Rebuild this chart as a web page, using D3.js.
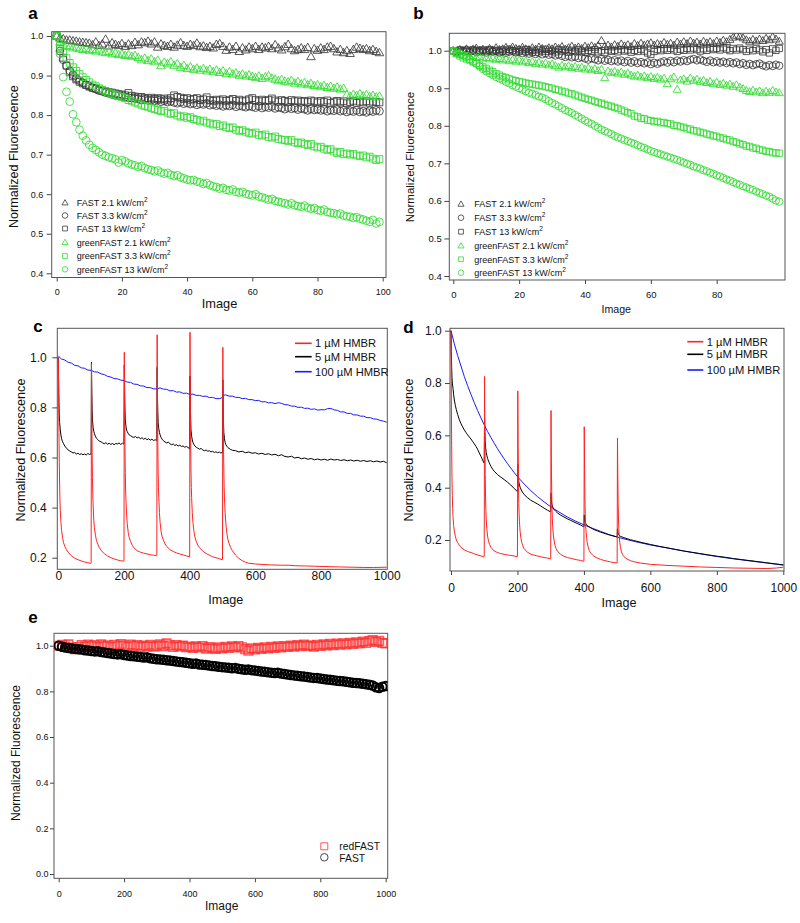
<!DOCTYPE html>
<html><head><meta charset="utf-8">
<script src="https://cdn.jsdelivr.net/npm/d3@7"></script>
<style>body{margin:0;background:#fff}svg{display:block}</style>
</head><body>
<script>
// ---------------- DATA ----------------
// Panel a (images 0..99)
const aFAST21 = [1.000,.995,.993,.990,.990,.988,.987,.985,.984,.983,
 .982,.978,.985,.976,.980,.992,.975,.983,.979,.976,
 .981,.974,.980,.976,.984,.978,.985,.983,.987,.980,
 .985,.972,.980,.976,.974,.979,.972,.977,.983,.976,
 .974,.979,.976,.982,.973,.975,.971,.974,.970,.979,
 .981,.974,.964,.972,.966,.974,.961,.970,.965,.972,
 .968,.974,.966,.972,.970,.974,.968,.978,.970,.965,
 .973,.979,.968,.963,.966,.970,.966,.971,.948,.968,
 .964,.970,.966,.972,.974,.968,.960,.966,.958,.963,
 .956,.966,.972,.969,.966,.968,.963,.966,.961,.958];
const aFAST33 = [1.000,.962,.940,.925,.912,.902,.893,.887,.882,.877,
 .873,.869,.866,.862,.860,.857,.855,.852,.850,.849,
 .847,.846,.844,.843,.842,.841,.838,.840,.837,.838,
 .836,.838,.834,.836,.833,.835,.832,.830,.833,.829,
 .831,.828,.830,.826,.829,.827,.830,.825,.827,.824,
 .826,.822,.825,.823,.826,.821,.824,.822,.820,.823,
 .821,.819,.823,.818,.821,.819,.822,.817,.820,.818,
 .815,.819,.816,.818,.814,.817,.815,.812,.816,.813,
 .815,.812,.814,.810,.813,.811,.814,.810,.812,.808,
 .811,.809,.812,.808,.810,.807,.811,.809,.812,.810];
const aFAST13 = [1.000,.968,.945,.925,.908,.898,.890,.884,.880,.876,
 .872,.869,.867,.864,.862,.860,.858,.857,.855,.853,
 .852,.850,.856,.849,.847,.845,.846,.843,.842,.844,
 .841,.843,.840,.842,.839,.843,.850,.846,.844,.841,
 .843,.839,.841,.843,.838,.840,.845,.838,.836,.839,
 .837,.840,.836,.838,.841,.836,.839,.835,.837,.840,
 .843,.838,.835,.839,.836,.838,.842,.837,.834,.838,
 .836,.833,.838,.835,.837,.834,.836,.833,.837,.835,
 .832,.836,.833,.837,.831,.834,.836,.832,.835,.830,
 .833,.836,.831,.834,.832,.835,.831,.834,.833,.832];
const aGreen21 = [1.000,.985,.980,.976,.974,.970,.972,.968,.966,.969,
 .964,.966,.962,.965,.960,.958,.961,.955,.957,.953,
 .955,.951,.953,.949,.951,.946,.940,.944,.938,.942,
 .935,.939,.925,.934,.930,.935,.926,.930,.921,.926,
 .918,.922,.916,.919,.914,.918,.912,.916,.910,.914,
 .908,.912,.905,.910,.904,.907,.901,.904,.899,.902,
 .898,.895,.899,.893,.897,.900,.894,.891,.887,.890,
 .886,.884,.888,.881,.885,.879,.882,.877,.880,.875,
 .877,.872,.875,.870,.873,.868,.871,.866,.868,.852,
 .848,.853,.850,.854,.849,.852,.847,.850,.846,.848];
const aGreen33 = [1.000,.975,.958,.944,.932,.921,.912,.904,.896,.889,
 .883,.877,.873,.868,.864,.861,.857,.854,.851,.848,
 .846,.843,.838,.836,.832,.829,.826,.823,.821,.818,
 .815,.813,.810,.811,.806,.803,.805,.799,.796,.797,
 .793,.795,.790,.788,.784,.786,.781,.779,.776,.778,
 .772,.774,.769,.767,.769,.763,.760,.762,.758,.755,
 .753,.756,.750,.748,.751,.745,.743,.746,.740,.738,
 .737,.734,.737,.731,.729,.731,.727,.724,.727,.721,
 .718,.720,.715,.712,.714,.708,.704,.707,.701,.703,
 .700,.702,.698,.696,.698,.693,.695,.690,.686,.689];
const aGreen13 = [1.000,.955,.896,.859,.834,.802,.782,.763,.748,.736,
 .725,.717,.712,.706,.700,.697,.693,.691,.688,.680,
 .686,.683,.678,.675,.673,.669,.671,.666,.663,.661,
 .658,.660,.655,.652,.654,.649,.646,.648,.643,.640,
 .637,.635,.636,.632,.630,.626,.628,.623,.620,.618,
 .614,.616,.611,.609,.612,.606,.604,.606,.601,.599,
 .597,.600,.594,.592,.589,.586,.588,.583,.581,.579,
 .577,.574,.577,.572,.570,.568,.571,.566,.563,.565,
 .560,.558,.561,.555,.553,.552,.549,.551,.546,.544,
 .543,.540,.542,.538,.536,.533,.530,.535,.526,.530];

// Panel b (images 0..99)
const bFAST21 = [1.000,.998,1.003,1.000,1.005,.999,1.004,1.007,1.001,1.004,
 1.000,1.006,1.002,1.008,1.003,1.005,1.009,1.003,1.010,1.006,
 1.004,1.009,1.005,1.003,1.008,1.004,1.010,1.006,1.003,1.008,
 1.005,1.010,1.006,1.011,1.004,1.008,1.012,1.007,1.010,1.006,
 1.012,1.008,1.013,1.009,1.014,1.027,1.011,1.015,1.010,1.016,
 1.012,1.018,1.013,1.016,1.011,1.019,1.014,1.020,1.015,1.018,
 1.021,1.015,1.019,1.016,1.022,1.017,1.020,1.015,1.023,1.018,
 1.024,1.019,1.026,1.020,1.023,1.018,1.025,1.021,1.024,1.019,
 1.026,1.022,1.028,1.024,1.030,1.036,1.041,1.038,1.034,1.029,
 1.025,1.030,1.026,1.031,1.027,1.033,1.029,1.037,1.031,1.025];
const bFAST33 = [1.000,.996,1.001,.998,1.002,.997,1.000,.996,1.001,.998,
 .995,1.000,.997,.999,.995,.998,.994,.997,1.000,.995,
 .997,.993,.996,.992,.995,.991,.994,.990,.993,.989,
 .991,.987,.990,.986,.983,.986,.982,.984,.980,.983,
 .979,.976,.980,.977,.974,.978,.973,.976,.972,.975,
 .971,.974,.969,.973,.968,.972,.967,.970,.966,.969,
 .964,.968,.965,.969,.972,.968,.973,.969,.974,.971,
 .975,.972,.976,.978,.974,.977,.973,.970,.974,.969,
 .972,.968,.971,.967,.970,.966,.969,.964,.967,.962,
 .965,.961,.964,.966,.961,.958,.962,.959,.963,.960];
const bFAST13 = [1.000,.997,1.002,.999,1.001,.998,1.003,1.000,.997,1.002,
 .999,1.003,.998,1.001,.997,1.002,.999,1.004,1.000,.997,
 1.002,.999,1.003,.998,1.001,.996,1.002,.999,1.004,.998,
 1.001,.997,1.003,.999,1.002,.996,1.001,.998,1.003,.999,
 .996,1.001,.998,1.003,.997,1.000,.995,1.002,.998,1.001,
 .997,1.003,.999,1.002,.996,1.001,.998,1.004,.999,.994,
 .990,.998,1.003,1.000,1.005,1.001,1.006,1.002,.998,1.004,
 1.001,1.006,1.002,1.007,1.003,.999,1.005,1.001,1.007,1.003,
 1.006,1.002,1.008,1.004,1.000,1.006,1.002,1.007,1.003,.998,
 1.004,1.000,1.006,1.002,.997,1.003,.994,1.005,1.001,1.006];
const bGreen21 = [1.000,.993,.990,.988,.986,.984,.986,.982,.984,.980,
 .982,.978,.981,.977,.979,.975,.978,.973,.976,.972,
 .975,.970,.973,.968,.971,.966,.969,.964,.967,.962,
 .965,.960,.956,.961,.957,.960,.955,.958,.953,.956,
 .951,.954,.949,.952,.947,.950,.928,.946,.942,.945,
 .940,.943,.937,.940,.935,.932,.935,.930,.933,.928,
 .931,.926,.929,.924,.927,.912,.925,.930,.897,.922,
 .925,.919,.927,.921,.924,.918,.921,.915,.918,.912,
 .916,.910,.913,.908,.911,.905,.909,.903,.899,.894,
 .891,.895,.890,.893,.888,.892,.889,.894,.890,.888];
const bGreen33 = [1.000,.992,.986,.981,.978,.975,.970,.966,.961,.957,
 .953,.948,.944,.939,.935,.931,.928,.925,.922,.920,
 .918,.916,.914,.912,.911,.909,.908,.906,.904,.902,
 .900,.897,.895,.892,.890,.887,.885,.882,.879,.876,
 .873,.870,.868,.865,.862,.860,.857,.854,.852,.849,
 .846,.842,.839,.835,.832,.826,.824,.820,.819,.815,
 .814,.811,.812,.808,.809,.806,.805,.801,.800,.797,
 .796,.792,.791,.787,.786,.783,.781,.778,.776,.773,
 .772,.768,.767,.763,.762,.758,.756,.752,.750,.746,
 .745,.741,.740,.736,.735,.732,.731,.728,.728,.727];
const bGreen13 = [1.000,.996,.992,.988,.983,.977,.971,.965,.958,.951,
 .945,.940,.935,.930,.926,.922,.917,.913,.908,.904,
 .900,.896,.892,.888,.885,.882,.878,.875,.871,.866,
 .861,.857,.852,.847,.842,.838,.834,.829,.824,.819,
 .814,.809,.805,.800,.795,.790,.786,.782,.778,.773,
 .769,.766,.762,.759,.755,.752,.748,.744,.741,.737,
 .733,.730,.727,.724,.721,.718,.715,.712,.709,.706,
 .702,.699,.696,.692,.689,.686,.682,.679,.675,.672,
 .668,.665,.661,.657,.654,.650,.646,.643,.639,.636,
 .632,.629,.625,.621,.618,.614,.611,.606,.601,.598];

const abLegend = ["FAST 2.1 kW/cm","FAST 3.3 kW/cm","FAST 13 kW/cm","greenFAST 2.1 kW/cm","greenFAST 3.3 kW/cm","greenFAST 13 kW/cm"];

// Panel c: [image, value]
const cRed = [[0,1.0],[1,.86],[2,.7],[3,.58],[4,.49],[5,.43],[6,.39],[8,.34],[10,.31],[13,.28],[16,.26],[20,.245],[25,.232],[30,.222],[40,.207],[50,.198],[60,.192],[70,.187],[80,.183],[90,.18],[99,.177],
 [100,.178],[101,.975],[102,.78],[103,.62],[104,.52],[105,.45],[106,.41],[108,.35],[110,.32],[113,.29],[116,.27],[120,.255],[125,.24],[130,.23],[140,.216],[150,.207],[160,.2],[170,.195],[180,.191],[190,.188],[199,.186],
 [200,.187],[201,1.02],[202,.8],[203,.64],[204,.54],[205,.47],[206,.43],[208,.37],[210,.335],[213,.3],[216,.28],[220,.265],[225,.25],[230,.24],[240,.228],[250,.222],[260,.218],[270,.215],[280,.212],[290,.21],[299,.208],
 [300,.209],[301,1.09],[302,.84],[303,.66],[304,.55],[305,.48],[306,.44],[308,.38],[310,.34],[313,.305],[316,.285],[320,.27],[325,.255],[330,.245],[340,.232],[350,.225],[360,.219],[370,.215],[380,.211],[390,.207],[399,.204],
 [400,.203],[401,1.10],[402,.84],[403,.66],[404,.55],[405,.48],[406,.44],[408,.38],[410,.34],[413,.305],[416,.283],[420,.265],[425,.25],[430,.24],[440,.226],[450,.217],[460,.21],[470,.204],[480,.2],[490,.196],[499,.192],
 [500,.192],[501,1.04],[502,.82],[503,.65],[504,.55],[505,.48],[506,.44],[508,.38],[510,.34],[513,.3],[516,.275],[520,.257],[525,.24],[530,.228],[540,.21],[550,.197],[560,.188],[570,.182],[580,.178],[600,.175],[620,.173],[650,.171],[680,.17],[700,.17],[720,.168],[750,.167],[780,.166],[800,.165],[830,.164],[860,.163],[900,.162],[930,.161],[960,.161],[1000,.162]];
const cBlack = [[0,1.0],[1,.9],[2,.82],[3,.77],[4,.74],[6,.71],[8,.69],[10,.675],[13,.663],[16,.655],[20,.645],[25,.637],[30,.63],[35,.626],[40,.622],[45,.618],[50,.62],[55,.614],[60,.617],[65,.612],[70,.615],[75,.611],[80,.614],[85,.61],[90,.616],[95,.612],[99,.614],
 [100,.613],[101,.98],[102,.86],[103,.79],[104,.75],[106,.72],[108,.705],[110,.695],[113,.685],[116,.677],[120,.672],[125,.665],[130,.663],[135,.658],[140,.655],[145,.659],[150,.653],[155,.657],[160,.652],[165,.656],[170,.651],[175,.656],[180,.654],[185,.658],[190,.652],[195,.657],[199,.654],
 [200,.655],[201,.97],[202,.86],[203,.79],[204,.75],[206,.725],[208,.71],[210,.703],[213,.696],[216,.69],[220,.687],[225,.683],[230,.68],[235,.684],[240,.678],[245,.681],[250,.675],[255,.679],[260,.673],[265,.677],[270,.671],[275,.675],[280,.669],[285,.673],[290,.668],[295,.671],[299,.667],
 [300,.668],[301,.96],[302,.85],[303,.78],[304,.74],[306,.715],[308,.7],[310,.69],[313,.68],[316,.673],[320,.667],[325,.662],[330,.658],[335,.661],[340,.655],[345,.651],[350,.654],[355,.648],[360,.651],[365,.646],[370,.649],[375,.644],[380,.646],[385,.641],[390,.644],[395,.64],[399,.636],
 [400,.633],[401,.925],[402,.82],[403,.75],[404,.71],[406,.685],[408,.67],[410,.66],[413,.652],[416,.646],[420,.641],[425,.637],[430,.633],[435,.636],[440,.63],[445,.627],[450,.63],[455,.625],[460,.627],[465,.622],[470,.625],[475,.62],[480,.623],[485,.619],[490,.622],[495,.618],[499,.62],
 [500,.619],[501,.91],[502,.81],[503,.74],[504,.7],[506,.675],[508,.66],[510,.652],[513,.645],[516,.64],[520,.636],[525,.632],[530,.629],[540,.627],[550,.622],[560,.625],[570,.619],[580,.622],[590,.617],[600,.619],[610,.614],[620,.617],[630,.612],[640,.615],[650,.61],[660,.613],[670,.607],[680,.611],[690,.604],[700,.602],[710,.605],[720,.598],[730,.601],[740,.595],[750,.598],[760,.593],[770,.596],[780,.591],[790,.594],[800,.59],[810,.593],[820,.589],[830,.594],[840,.59],[850,.592],[860,.588],[870,.591],[880,.587],[890,.59],[900,.586],[910,.589],[920,.585],[930,.588],[940,.584],[950,.587],[960,.583],[970,.586],[980,.582],[990,.585],[1000,.579]];
const cBlue = [[0,1.005],[10,.993],[20,.989],[30,.98],[40,.977],[50,.968],[60,.966],[70,.958],[80,.956],[90,.949],[100,.948],[110,.942],[120,.941],[130,.934],[140,.931],[150,.924],[160,.921],[170,.915],[180,.914],[190,.909],[200,.907],[210,.901],[220,.9],[230,.893],[240,.892],[250,.886],[260,.885],[270,.879],[280,.879],[290,.874],[300,.874],[310,.878],[320,.873],[330,.872],[340,.866],[350,.867],[360,.861],[370,.862],[380,.856],[390,.857],[400,.852],[410,.853],[420,.848],[430,.848],[440,.844],[450,.845],[460,.839],[470,.84],[480,.835],[490,.835],[498,.838],[502,.848],[510,.85],[520,.845],[530,.845],[540,.84],[550,.84],[560,.835],[570,.836],[580,.831],[590,.831],[600,.827],[610,.828],[620,.822],[630,.823],[640,.818],[650,.819],[660,.815],[670,.819],[680,.816],[690,.811],[700,.81],[710,.805],[720,.805],[730,.8],[740,.801],[750,.796],[760,.797],[770,.792],[780,.794],[790,.789],[800,.791],[810,.79],[820,.795],[830,.796],[840,.79],[850,.788],[860,.782],[870,.782],[880,.776],[890,.776],[900,.77],[910,.77],[920,.765],[930,.765],[940,.759],[950,.759],[960,.754],[970,.753],[980,.748],[990,.745],[1000,.741]];

// Panel d: [image, value]
const dRed = [[0,1.0],[1,.75],[2,.56],[3,.44],[4,.37],[5,.32],[6,.29],[8,.255],[10,.235],[13,.215],[16,.2],[20,.19],[25,.18],[30,.172],[40,.162],[50,.156],[60,.152],[70,.147],[80,.143],[90,.139],[99,.136],
 [100,.137],[101,.825],[102,.6],[103,.45],[104,.36],[105,.31],[106,.28],[108,.24],[110,.215],[113,.195],[116,.183],[120,.172],[130,.158],[140,.152],[150,.148],[160,.145],[170,.143],[180,.141],[190,.139],[199,.136],
 [200,.137],[201,.77],[202,.56],[203,.42],[204,.34],[205,.3],[206,.27],[208,.232],[210,.21],[213,.19],[216,.178],[220,.167],[230,.153],[240,.146],[250,.142],[260,.139],[270,.136],[280,.133],[290,.131],[299,.128],
 [300,.128],[301,.695],[302,.51],[303,.39],[304,.32],[305,.28],[306,.253],[308,.22],[310,.2],[313,.18],[316,.168],[320,.158],[330,.145],[340,.138],[350,.133],[360,.13],[370,.127],[380,.124],[390,.122],[399,.119],
 [400,.119],[401,.633],[402,.47],[403,.36],[404,.3],[405,.263],[406,.24],[408,.21],[410,.19],[413,.172],[416,.16],[420,.15],[430,.138],[440,.131],[450,.126],[460,.122],[470,.119],[480,.116],[490,.114],[499,.112],
 [500,.112],[501,.59],[502,.44],[503,.34],[504,.28],[505,.245],[506,.22],[508,.19],[510,.172],[513,.155],[516,.145],[520,.137],[530,.127],[540,.121],[550,.117],[570,.112],[600,.107],[650,.103],[700,.1],[750,.097],[800,.095],[850,.093],[900,.092],[950,.091],[980,.093],[1000,.096]];
const dBlack = [[0,1.0],[1,.92],[2,.86],[3,.82],[4,.8],[6,.78],[8,.755],[10,.735],[13,.715],[16,.698],[20,.68],[25,.66],[30,.645],[35,.632],[40,.621],[45,.611],[50,.602],[55,.594],[60,.586],[65,.577],[70,.568],[75,.558],[80,.547],[85,.533],[90,.52],[95,.506],[99,.495],
 [100,.494],[101,.665],[102,.61],[103,.575],[104,.555],[106,.535],[108,.522],[110,.512],[115,.495],[120,.482],[125,.471],[130,.463],[140,.45],[150,.44],[160,.431],[170,.421],[180,.41],[190,.397],[199,.386],
 [200,.386],[201,.49],[202,.455],[203,.435],[204,.423],[206,.41],[208,.402],[210,.395],[215,.383],[220,.374],[230,.362],[240,.352],[250,.345],[260,.338],[270,.33],[280,.322],[290,.314],[299,.308],
 [300,.308],[301,.38],[302,.355],[303,.342],[304,.334],[306,.326],[308,.321],[310,.317],[315,.31],[320,.304],[330,.295],[340,.288],[350,.281],[360,.275],[370,.269],[380,.263],[390,.257],[399,.251],
 [400,.251],[401,.296],[402,.28],[403,.272],[404,.267],[406,.262],[408,.258],[410,.255],[420,.247],[430,.24],[440,.235],[450,.23],[460,.226],[470,.222],[480,.218],[490,.215],[499,.212],
 [500,.212],[501,.243],[502,.232],[503,.226],[504,.222],[506,.219],[508,.216],[510,.214],[520,.209],[530,.205],[540,.201],[550,.198],[575,.19],[600,.183],[625,.176],[650,.17],[675,.164],[700,.158],[725,.153],[750,.148],[775,.143],[800,.138],[825,.134],[850,.129],[875,.125],[900,.121],[925,.117],[950,.113],[975,.109],[1000,.105]];
const dBlue = [[0,1.0],[10,.95],[20,.905],[30,.865],[40,.825],[50,.79],[60,.757],[70,.725],[80,.695],[90,.667],[100,.64],[110,.615],[120,.592],[130,.57],[140,.549],[150,.529],[160,.51],[170,.492],[180,.475],[190,.458],[200,.442],[220,.414],[240,.389],[260,.366],[280,.346],[300,.327],[325,.307],[350,.288],[375,.272],[400,.258],[425,.245],[450,.233],[475,.221],[500,.211],[550,.195],[600,.181],[650,.17],[700,.158],[750,.147],[800,.137],[850,.128],[900,.12],[950,.112],[1000,.104]];
const cdLegend = ["1 µM HMBR","5 µM HMBR","100 µM HMBR"];

// Panel e (images 0,10,...,1000)
const eImages = d3.range(0, 1001, 10);
const eRedFAST = [1.000,1.004,.996,1.006,.992,.985,.994,1.003,.997,1.005,
 .999,1.003,.995,1.006,.998,1.002,.994,1.004,.999,1.007,
 1.001,.996,1.005,.999,1.003,.994,1.001,.997,1.004,.996,
 1.000,1.006,.998,1.010,1.002,.995,1.003,.997,1.001,.993,
 .996,.990,.997,.992,.999,.987,.994,.989,.986,.993,
 .988,.995,.990,.997,.992,.999,.993,.985,.978,.989,
 .984,.991,.986,.993,.988,.995,.990,.997,.992,.999,
 .994,1.001,.996,1.003,.998,1.005,.999,1.002,.996,1.004,
 .999,1.006,1.001,1.008,1.002,1.009,1.004,1.011,1.006,1.013,
 1.008,1.015,1.010,1.018,1.012,1.020,1.025,1.016,1.021,1.012,1.010];
const eFAST = [1.000,.995,.992,.990,.988,.986,.984,.983,.980,.979,
 .977,.975,.976,.972,.970,.968,.966,.964,.962,.963,
 .959,.957,.955,.954,.952,.950,.948,.949,.945,.943,
 .941,.940,.938,.936,.935,.933,.931,.929,.927,.925,
 .923,.921,.922,.918,.917,.915,.913,.911,.910,.908,
 .906,.905,.903,.901,.902,.899,.897,.895,.896,.893,
 .891,.889,.887,.886,.884,.882,.880,.881,.878,.876,
 .874,.872,.870,.868,.866,.865,.863,.861,.859,.858,
 .856,.854,.852,.851,.849,.847,.845,.844,.842,.840,
 .838,.837,.835,.833,.831,.829,.826,.818,.815,.820,.823];
const eLegend = ["redFAST","FAST"];

// ---------------- DRAWING ----------------
const FONT = '"Liberation Sans", Arial, Helvetica, sans-serif';
const GREEN = '#2fdc2f', GREY = '#3a3a3a';
const svg = d3.select('body').append('svg').attr('width',800).attr('height',923)
  .attr('font-family',FONT);
const defs = svg.append('defs');

function shape(type, s){
  const h = s/2;
  if(type==='tri') return `M0,${-h*1.1}L${h*1.1},${h*0.8}L${-h*1.1},${h*0.8}Z`;
  if(type==='sq') return `M${-h},${-h}H${h}V${h}H${-h}Z`;
  return `M${h},0A${h},${h} 0 1,1 ${-h},0A${h},${h} 0 1,1 ${h},0Z`;
}

let clipN = 0;
function makePanel(c){
  const x = d3.scaleLinear().domain(c.xd).range(c.xr);
  const y = d3.scaleLinear().domain(c.yd).range(c.yr);
  const [x0,y0,x1,y1] = c.box;
  const g = svg.append('g');
  const id = 'clip'+(clipN++);
  defs.append('clipPath').attr('id',id).append('rect')
    .attr('x',x0).attr('y',y0).attr('width',x1-x0).attr('height',y1-y0);
  const ya = g.append('g').attr('transform',`translate(${x0},0)`)
    .call(d3.axisLeft(y).tickValues(c.yTicks).tickFormat(d3.format('.1f')).tickSize(c.yTick).tickPadding(c.yPad));
  const xa = g.append('g').attr('transform',`translate(0,${y1})`)
    .call(d3.axisBottom(x).tickValues(c.xTicks).tickFormat(d3.format('d')).tickSize(c.xTick).tickPadding(c.xPad));
  [ya,xa].forEach(a=>{
    a.select('.domain').remove();
    a.attr('font-family',FONT).attr('font-size',c.tickFont);
    a.selectAll('line').attr('stroke','#444').attr('stroke-width',1);
    a.selectAll('text').attr('fill','#111');
  });
  g.append('rect').attr('x',x0).attr('y',y0).attr('width',x1-x0).attr('height',y1-y0)
    .attr('fill','none').attr('stroke','#555').attr('stroke-width',1);
  g.append('text').attr('transform',`translate(${c.yl[0]},${c.yl[1]}) rotate(-90)`)
    .attr('text-anchor','middle').attr('font-size',c.yl[2]).attr('fill','#111').text('Normalized Fluorescence');
  g.append('text').attr('x',c.xl[0]).attr('y',c.xl[1]).attr('text-anchor','middle')
    .attr('font-size',c.xl[2]).attr('fill','#111').text('Image');
  svg.append('text').attr('x',c.letter[0]).attr('y',c.letter[1]).attr('font-size',17)
    .attr('font-weight','bold').attr('fill','#000').text(c.letter[2]);
  const plot = g.append('g').attr('clip-path',`url(#${id})`);
  return {x,y,g,plot};
}

// ---- scatter panels a & b ----
function scatterPanel(p, series, legendRows, legX, legTX, mk){
  series.forEach(s=>{
    p.plot.append('g').selectAll('path').data(s.vals).join('path')
      .attr('transform',(v,i)=>`translate(${p.x(i)},${p.y(v)})`)
      .attr('d',shape(s.shape, s.shape==='sq'? mk-1 : mk))
      .attr('fill','none').attr('stroke',s.color).attr('stroke-width',0.85);
  });
  series.forEach((s,i)=>{
    const yy = legendRows[i];
    p.g.append('path').attr('transform',`translate(${legX},${yy})`)
      .attr('d',shape(s.shape, s.shape==='sq'?4.8:5.6)).attr('fill','none')
      .attr('stroke',s.color).attr('stroke-width',0.8);
    const t = p.g.append('text').attr('x',legTX).attr('y',yy+3.3).attr('font-size',9).attr('fill','#111');
    t.append('tspan').text(abLegend[i]);
    t.append('tspan').attr('dy',-4).attr('font-size',6.5).text('2');
  });
}

const pa = makePanel({xd:[0,100], xr:[56.7,382.7], yd:[0.4,1.0], yr:[273.3,36], box:[51.7,31.7,386,277.5],
  yTicks:[0.4,0.5,0.6,0.7,0.8,0.9,1.0], xTicks:[0,20,40,60,80,100], yTick:5, yPad:3.4, xTick:4, xPad:7.2, tickFont:9,
  yl:[18.3,156.7,12.6], xl:[219.5,307.5,12.8], letter:[28.3,19.3,'a']});
scatterPanel(pa, [
  {vals:aFAST21, shape:'tri', color:GREY},
  {vals:aFAST33, shape:'circ', color:GREY},
  {vals:aFAST13, shape:'sq', color:GREY},
  {vals:aGreen21, shape:'tri', color:GREEN},
  {vals:aGreen33, shape:'sq', color:GREEN},
  {vals:aGreen13, shape:'circ', color:GREEN}
], [202.7,215.5,228.5,242.3,256,269.3], 65, 76.7, 7.8);

const pb = makePanel({xd:[0,80], xr:[453.3,716.7], yd:[0.4,1.0], yr:[276,50.7], box:[449.3,33.3,785,280],
  yTicks:[0.4,0.5,0.6,0.7,0.8,0.9,1.0], xTicks:[0,20,40,60,80], yTick:5, yPad:2.6, xTick:4, xPad:7.3, tickFont:9.5,
  yl:[414,157,11.5], xl:[616.2,312.5,10.6], letter:[413.3,19.3,'b']});
scatterPanel(pb, [
  {vals:bFAST21, shape:'tri', color:GREY},
  {vals:bFAST33, shape:'circ', color:GREY},
  {vals:bFAST13, shape:'sq', color:GREY},
  {vals:bGreen21, shape:'tri', color:GREEN},
  {vals:bGreen33, shape:'sq', color:GREEN},
  {vals:bGreen13, shape:'circ', color:GREEN}
], [204,217.7,231.7,245.7,259.3,272.7], 461, 474.3, 7.3);

// ---- line panels c & d ----
const LINE_COLORS = ['#ff2424','#000000','#1a1aff'];
function linePanel(p, lines, legRows, lx0, lx1, tx){
  const gen = d3.line().x(d=>p.x(d[0])).y(d=>p.y(d[1]));
  [2,1,0].forEach(i=>{
    p.plot.append('path').datum(lines[i]).attr('d',gen).attr('fill','none')
      .attr('stroke',LINE_COLORS[i]).attr('stroke-width',1).attr('stroke-linejoin','round');
  });
  lines.forEach((l,i)=>{
    p.g.append('line').attr('x1',lx0).attr('x2',lx1).attr('y1',legRows[i]).attr('y2',legRows[i])
      .attr('stroke',LINE_COLORS[i]).attr('stroke-width',1.6);
    p.g.append('text').attr('x',tx).attr('y',legRows[i]+4).attr('font-size',11.2).attr('fill','#111').text(cdLegend[i]);
  });
}

const pc = makePanel({xd:[0,1000], xr:[58.3,386.7], yd:[0.2,1.0], yr:[557.7,357.3], box:[57.3,328.3,387.3,569.3],
  yTicks:[0.2,0.4,0.6,0.8,1.0], xTicks:[0,200,400,600,800,1000], yTick:5, yPad:5.5, xTick:0, xPad:2.4, tickFont:12,
  yl:[25,450,12.6], xl:[225.8,604,12.6], letter:[33.3,331.7,'c']});
linePanel(pc, [cRed,cBlack,cBlue], [343.3,356.7,371.7], 295, 311.7, 315);

const pd = makePanel({xd:[0,1000], xr:[451,783.3], yd:[0.2,1.0], yr:[540,330.7], box:[450,328.3,784,571],
  yTicks:[0.2,0.4,0.6,0.8,1.0], xTicks:[0,200,400,600,800,1000], yTick:5, yPad:3.3, xTick:4, xPad:8, tickFont:12,
  yl:[413.3,450,12.6], xl:[619,607.3,12.6], letter:[403.3,332.7,'d']});
linePanel(pd, [dRed,dBlack,dBlue], [341.7,354.3,370], 687.3, 703.3, 706.7);

// ---- panel e ----
const pe = makePanel({xd:[0,1000], xr:[58.7,385.7], yd:[0,1.0], yr:[874,645.7], box:[54,633.3,387.7,878.3],
  yTicks:[0,0.2,0.4,0.6,0.8,1.0], xTicks:[0,200,400,600,800,1000], yTick:4, yPad:1.5, xTick:4, xPad:8, tickFont:9,
  yl:[20,753,12], xl:[221.7,910.3,12], letter:[28.3,622.7,'e']});
pe.plot.append('g').selectAll('path').data(eRedFAST).join('path')
  .attr('transform',(v,i)=>`translate(${pe.x(eImages[i])},${pe.y(v)})`)
  .attr('d',shape('sq',8.5)).attr('fill','none').attr('stroke','#ff2a2a').attr('stroke-opacity',0.75).attr('stroke-width',1.6);
pe.plot.append('g').selectAll('path').data(eFAST).join('path')
  .attr('transform',(v,i)=>`translate(${pe.x(eImages[i])},${pe.y(v)})`)
  .attr('d',shape('circ',8.5)).attr('fill','none').attr('stroke','#000').attr('stroke-width',2);
pe.g.append('path').attr('transform','translate(324.3,846.3)').attr('d',shape('sq',7)).attr('fill','none')
  .attr('stroke','#ff3030').attr('stroke-opacity',0.8).attr('stroke-width',1);
pe.g.append('path').attr('transform','translate(324.3,857.3)').attr('d',shape('circ',7.5)).attr('fill','none')
  .attr('stroke','#444').attr('stroke-width',1);
pe.g.append('text').attr('x',339.3).attr('y',850).attr('font-size',10.3).attr('fill','#111').text(eLegend[0]);
pe.g.append('text').attr('x',339.3).attr('y',861.5).attr('font-size',10.3).attr('fill','#111').text(eLegend[1]);
</script>
</body></html>
